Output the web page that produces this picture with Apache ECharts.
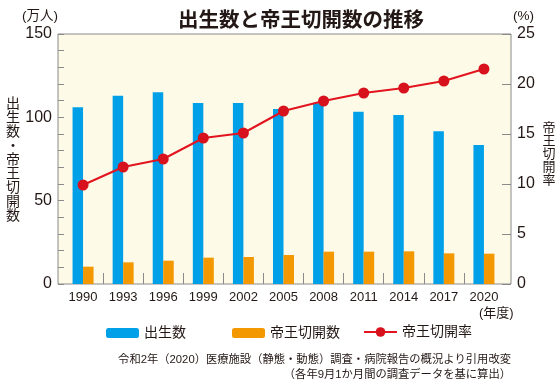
<!DOCTYPE html>
<html><head><meta charset="utf-8">
<script src="https://cdn.jsdelivr.net/npm/echarts@6/dist/echarts.min.js"></script>
<style>html,body{margin:0;padding:0;background:#fff}#c{width:560px;height:386px}</style>
</head><body><div id="c"></div>
<script>
const years = ['1990','1993','1996','1999','2002','2005','2008','2011','2014','2017','2020'];
const births = [106, 113, 115, 108.6, 108.6, 105, 108.4, 103.4, 101.4, 91.6, 83.4];
const cesareans = [10.4, 13.0, 14.0, 15.8, 16.2, 17.4, 19.4, 19.4, 19.6, 18.4, 18.2];
const rates = [9.9, 11.7, 12.5, 14.6, 15.1, 17.3, 18.3, 19.1, 19.6, 20.3, 21.5];
const leftLabels = [0, 50, 100, 150];

const F = "'Liberation Sans','Noto Sans CJK JP',sans-serif";
const TXT = '#231815';
const GRID = '#8a8a8a';
const BLUE = '#00a0e9', ORANGE = '#f39800', RED = '#d7121d';
const idx = years.map((_, i) => i);
const gaps = idx.slice(1).map(i => i - 0.5);

const chart = echarts.init(document.getElementById('c'));
chart.setOption({
  animation: false,
  textStyle: { fontFamily: F, color: TXT },
  title: { text: '出生数と帝王切開数の推移', left: 173, top: 6,
    textStyle: { fontFamily: F, fontSize: 20.5, fontWeight: 'bold', color: TXT } },
  grid: { left: 58, right: 49, top: 34, bottom: 102, show: true,
    backgroundColor: '#fdfbe8', borderColor: GRID, borderWidth: 1 },
  legend: [
    { data: ['出生数'], left: 101, top: 321, itemWidth: 33, itemHeight: 10, itemGap: 8,
      textStyle: { fontSize: 14, color: TXT, fontFamily: F } },
    { data: ['帝王切開数'], left: 227, top: 321, itemWidth: 33, itemHeight: 10,
      textStyle: { fontSize: 14, color: TXT, fontFamily: F } },
    { data: ['帝王切開率'], left: 358, top: 320, itemWidth: 33, itemHeight: 12,
      textStyle: { fontSize: 14, color: TXT, fontFamily: F } }
  ],
  xAxis: {
    type: 'value', min: -0.625, max: 10.675,
    axisLine: { show: false, onZero: false }, splitLine: { show: false },
    axisTick: { show: true, inside: true, length: 11, customValues: gaps, lineStyle: { color: GRID } },
    axisLabel: { customValues: idx, formatter: v => years[v], fontSize: 13, color: TXT, margin: 7 }
  },
  yAxis: [
    { type: 'value', min: 0, max: 150, interval: 10, position: 'left',
      axisLine: { show: false, onZero: false }, splitLine: { show: false },
      axisTick: { show: true, inside: true, length: 6, lineStyle: { color: GRID } },
      axisLabel: { customValues: leftLabels, fontSize: 16, color: TXT, margin: 6 } },
    { type: 'value', min: 0, max: 25, interval: 5, position: 'right',
      axisLine: { show: false, onZero: false }, splitLine: { show: false },
      axisTick: { show: true, inside: true, length: 9, lineStyle: { color: GRID } },
      axisLabel: { fontSize: 16, color: TXT, margin: 6 } }
  ],
  series: [
    { name: '出生数', type: 'bar', data: idx.map(i => [i, births[i]]), barWidth: 10.5, barGap: '0%',
      itemStyle: { color: BLUE } },
    { name: '帝王切開数', type: 'bar', data: idx.map(i => [i, cesareans[i]]), barWidth: 10.5, barGap: '0%',
      itemStyle: { color: ORANGE } },
    { name: '帝王切開率', type: 'line', yAxisIndex: 1, data: idx.map(i => [i, rates[i]]),
      symbol: 'circle', symbolSize: 11, z: 5,
      lineStyle: { color: '#e2141f', width: 2 }, itemStyle: { color: RED } }
  ],
  graphic: [
    { type: 'text', x: 22, y: 10, style: { text: '(万人)', font: "13.5px " + F, fill: TXT } },
    { type: 'text', x: 513, y: 10, style: { text: '(%)', font: "13.5px " + F, fill: TXT } },
    { type: 'text', x: 479, y: 307, style: { text: '(年度)', font: "13px " + F, fill: TXT } },
    { type: 'text', x: 13, y: 97, style: { text: '出生数・帝王切開数'.split('').join('\n'),
      font: "14px " + F, lineHeight: 14, fill: TXT, textAlign: 'center' } },
    { type: 'text', x: 549, y: 122, style: { text: '帝王切開率'.split('').join('\n'),
      font: "13px " + F, lineHeight: 13, fill: TXT, textAlign: 'center' } },
    { type: 'text', x: 511, y: 354, style: { text: '令和2年（2020）医療施設（静態・動態）調査・病院報告の概況より引用改変',
      font: "11.3px " + F, fill: TXT, textAlign: 'right' } },
    { type: 'text', x: 511, y: 369, style: { text: '（各年9月1か月間の調査データを基に算出）',
      font: "11.3px " + F, fill: TXT, textAlign: 'right' } }
  ]
});
</script></body></html>
